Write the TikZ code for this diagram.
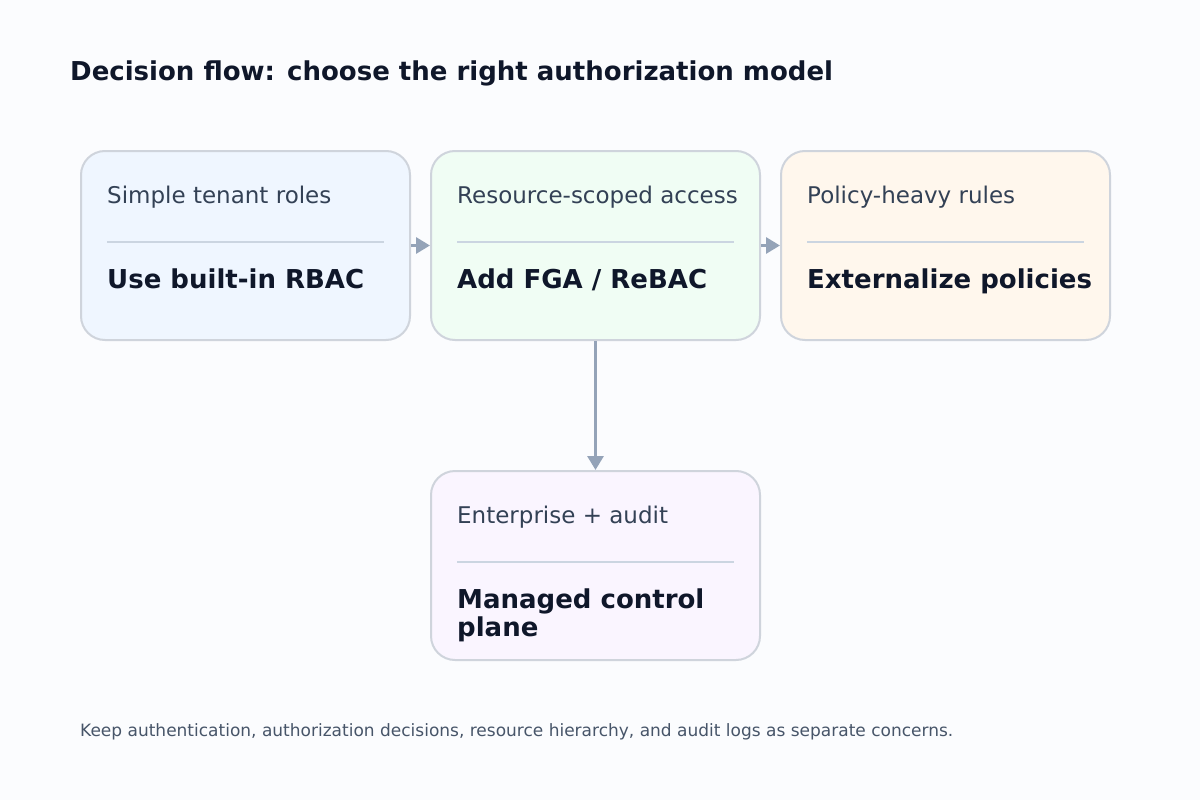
\documentclass[tikz,border=0pt]{standalone}
\usepackage{fontspec}
\setmainfont{DejaVu Sans}
\usetikzlibrary{arrows.meta}

\definecolor{pagebg}{HTML}{FBFCFE}
\definecolor{ink}{HTML}{0F172A}
\definecolor{labelink}{HTML}{334155}
\definecolor{noteink}{HTML}{475569}
\definecolor{edge}{HTML}{CFD4DC}
\definecolor{rule}{HTML}{CBD5E1}
\definecolor{arrowgray}{HTML}{94A3B8}
\definecolor{bluefill}{HTML}{EFF6FF}
\definecolor{greenfill}{HTML}{F0FDF4}
\definecolor{orangefill}{HTML}{FFF7ED}
\definecolor{purplefill}{HTML}{FAF5FF}

\tikzset{
    card/.style={draw=edge, line width=2pt, rounded corners=24pt,
        minimum width=329pt, minimum height=189pt, inner sep=0pt},
    cardlabel/.style={anchor=base west, inner sep=0pt, text=labelink,
        font=\fontsize{23}{27}\selectfont},
    cardpick/.style={anchor=base west, inner sep=0pt, text=ink, align=left,
        font=\fontsize{26}{28.5}\selectfont\bfseries},
    flow/.style={draw=arrowgray, line width=3pt,
        -{Triangle[length=14pt,width=16pt]}},
}

\begin{document}
\begin{tikzpicture}[x=1pt, y=-1pt]
    % Page
    \fill[pagebg] (0,0) rectangle (1200,800);
    \useasboundingbox (0,0) rectangle (1200,800);

    % Title
    \node[anchor=base west, inner sep=0pt, text=ink,
        font=\fontsize{26}{30}\selectfont\bfseries] (title) at (70,81)
        {Decision flow: choose the right authorization model};

    % Cards
    \node[card, fill=bluefill] (simple) at (245.5,245.5) {};
    \node[card, fill=greenfill] (resource) at (595.5,245.5) {};
    \node[card, fill=orangefill] (policy) at (945.5,245.5) {};
    \node[card, fill=purplefill] (enterprise) at (595.5,565.5) {};

    % Card texts (base of a two-line pick sits on its last line)
    \foreach \card/\lab/\pick/\dy in {simple/Simple tenant roles/Use built-in RBAC/138,
        resource/Resource-scoped access/{Add FGA / ReBAC}/138,
        policy/Policy-heavy rules/Externalize policies/138,
        enterprise/Enterprise + audit/{Managed control\\plane}/166.5} {
        \node[cardlabel] (\card-lab) at ([shift={(27,53)}]\card.north west) {\lab};
        \draw[rule, line width=2pt] ([shift={(27,91.5)}]\card.north west)
            -- ([shift={(-27,91.5)}]\card.north east);
        \node[cardpick] (\card-pick) at ([shift={(27,\dy)}]\card.north west) {\pick};
    }

    % Connectors
    \draw[flow] (simple) -- (resource);
    \draw[flow] (resource) -- (policy);
    \draw[flow] (resource) -- (enterprise);

    % Footnote
    \node[anchor=base west, inner sep=0pt, text=noteink,
        font=\fontsize{17}{20}\selectfont] (note) at (80,736)
        {Keep authentication, authorization decisions, resource hierarchy, and audit logs as separate concerns.};
\end{tikzpicture}
\end{document}
